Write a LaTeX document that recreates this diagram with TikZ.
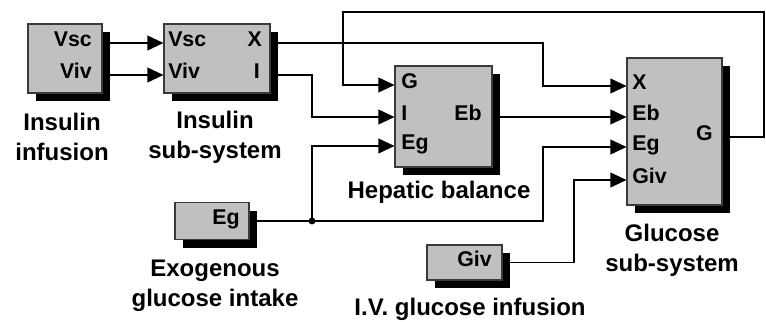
\documentclass[tikz,border=0pt]{standalone}
\usepackage{fontspec}
\setmainfont{Liberation Sans}
\usetikzlibrary{arrows.meta, shadows}
\definecolor{BlockGray}{HTML}{C0C0C0}
\definecolor{EdgeGray}{HTML}{3A3A3A}
\newcommand{\CapFont}{\bfseries\fontsize{18pt}{22.5pt}\selectfont}
\newcommand{\PortFont}{\bfseries\fontsize{16pt}{18pt}\selectfont}

\begin{document}
\begin{tikzpicture}[x=0.75pt, y=-0.75pt,
  block/.style={draw=EdgeGray, line width=0.8pt, fill=BlockGray, inner sep=0pt,
    drop shadow={shadow xshift=6pt, shadow yshift=-6pt, opacity=1, fill=black}},
  port/.style={inner sep=0pt, font=\PortFont},
  caption/.style={inner sep=0pt, align=center, font=\CapFont},
  wire/.style={line width=1.3pt},
  feed/.style={wire, -{Triangle[length=12pt, width=11pt]}}]
  \useasboundingbox (0,0) rectangle (766,321);

  % blocks (shadow drawn by the style)
  \node[block, minimum width=55.5pt, minimum height=51.75pt] (inf) at (65,58.5) {};
  \node[block, minimum width=79.5pt, minimum height=51.75pt] (sub) at (217,58.5) {};
  \node[block, minimum width=72.75pt, minimum height=75.75pt] (hep) at (443.5,116.5) {};
  \node[block, minimum width=71.25pt, minimum height=110.25pt] (glu) at (674.5,131.5) {};
  \node[block, minimum width=55.5pt, minimum height=27.75pt] (egsrc) at (212,221) {};
  \node[block, minimum width=56.25pt, minimum height=26.25pt] (givsrc) at (464.5,262.5) {};

  % port labels
  \node[port, anchor=mid east] (infVsc) at (92,43) {Vsc};
  \node[port, anchor=mid east] (infViv) at (92,75) {Viv};
  \node[port, anchor=mid west] (subVsc) at (168,43) {Vsc};
  \node[port, anchor=mid west] (subViv) at (168,75) {Viv};
  \node[port, anchor=mid east] (subX) at (262,43) {X};
  \node[port, anchor=mid east] (subI) at (260,75) {I};
  \node[port, anchor=mid west] (hepG) at (401,85) {G};
  \node[port, anchor=mid west] (hepI) at (401,117) {I};
  \node[port, anchor=mid west] (hepEg) at (401,146) {Eg};
  \node[port, anchor=mid east] (hepEb) at (482,117) {Eb};
  \node[port, anchor=mid west] (gluX) at (632,86) {X};
  \node[port, anchor=mid west] (gluEb) at (632,117) {Eb};
  \node[port, anchor=mid west] (gluEg) at (632,147) {Eg};
  \node[port, anchor=mid west] (gluGiv) at (632,180) {Giv};
  \node[port, anchor=mid east] (gluG) at (713,137) {G};
  \node[port, anchor=mid east] (egsrcEg) at (240,221) {Eg};
  \node[port, anchor=mid east] (givsrcGiv) at (492,262.5) {Giv};

  % captions under the blocks
  \node[caption] (infCap) at (62,137) {Insulin\\infusion};
  \node[caption] (subCap) at (215,137) {Insulin\\sub-system};
  \node[caption] (hepCap) at (439,192) {Hepatic balance};
  \node[caption] (egCap) at (215,286) {Exogenous\\glucose intake};
  \node[caption] (givCap) at (470,309) {I.V. glucose infusion};
  \node[caption] (gluCap) at (672,250) {Glucose\\sub-system};

  % bend points
  \coordinate (spine) at (312,221);
  \coordinate (egbend) at (543,221);
  \coordinate (givbend) at (574,262.5);
  \coordinate (loopR) at (764,12);
  \coordinate (loopL) at (343,12);

  % wires
  \draw[feed] (inf.east |- infVsc.mid) -- (sub.west |- subVsc.mid);
  \draw[feed] (inf.east |- infViv.mid) -- (sub.west |- subViv.mid);
  \draw[feed] (sub.east |- subX.mid) -| (egbend |- gluX.mid) -- (glu.west |- gluX.mid);
  \draw[feed] (sub.east |- subI.mid) -| (spine |- hepI.mid) -- (hep.west |- hepI.mid);
  \draw[feed] (hep.east |- hepEb.mid) -- (glu.west |- gluEb.mid);
  \draw[wire] (egsrc.east) -- (spine);
  \draw[feed] (spine) |- (hep.west |- hepEg.mid);
  \draw[feed] (spine) -- (egbend) |- (glu.west |- gluEg.mid);
  \draw[feed] (givsrc.east) -| (givbend |- gluGiv.mid) -- (glu.west |- gluGiv.mid);
  \draw[feed] (glu.east |- gluG.mid) -| (loopR) -| (loopL |- hepG.mid) -- (hep.west |- hepG.mid);
  \fill (spine) circle[radius=2.6pt];
\end{tikzpicture}
\end{document}
